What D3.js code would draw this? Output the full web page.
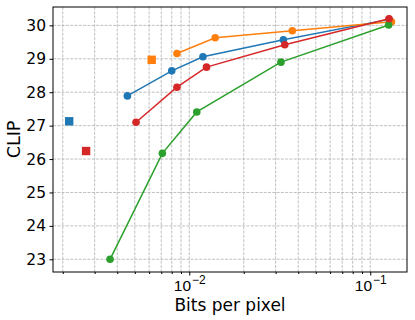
<!DOCTYPE html>
<html>
<head>
<meta charset="utf-8">
<script src="https://cdn.jsdelivr.net/npm/d3@7"></script>
<style>
  body { margin: 0; background: #fff; }
  svg { display: block; font-family: "DejaVu Sans", sans-serif; }
</style>
</head>
<body>
<script>
const width = 415;
const height = 320;
const margin = { top: 7, right: 8, bottom: 48, left: 53 };

// series: bits per pixel / CLIP score
const blueBpp  = [0.00455, 0.0080, 0.0119, 0.0331, 0.127];
const blueClip = [27.89, 28.64, 29.06, 29.57, 30.18];
const orangeBpp  = [0.00855, 0.0139, 0.0371, 0.131];
const orangeClip = [29.16, 29.63, 29.84, 30.11];
const greenBpp  = [0.00365, 0.0071, 0.0110, 0.0321, 0.1264];
const greenClip = [23.00, 26.17, 27.41, 28.90, 30.01];
const redBpp  = [0.00508, 0.00855, 0.01245, 0.0337, 0.127];
const redClip = [27.10, 28.15, 28.75, 29.42, 30.20];

// single-point baselines (square markers)
const squareBpp  = [0.00217, 0.0062, 0.00269];
const squareClip = [27.13, 28.97, 26.24];
const squareColor = ["#1f77b4", "#ff7f0e", "#d62728"];

const yTicks = [23, 24, 25, 26, 27, 28, 29, 30];
const xMajor = [0.01, 0.1];

const series = [
  { color: "#1f77b4", x: blueBpp, y: blueClip },
  { color: "#ff7f0e", x: orangeBpp, y: orangeClip },
  { color: "#2ca02c", x: greenBpp, y: greenClip },
  { color: "#d62728", x: redBpp, y: redClip }
];

const svg = d3.select("body").append("svg")
  .attr("width", width)
  .attr("height", height);

const x = d3.scaleLog()
  .domain([0.001766, 0.1596])
  .range([margin.left, width - margin.right]);

const y = d3.scaleLinear()
  .domain([22.62, 30.55])
  .range([height - margin.bottom, margin.top]);

// minor ticks for the log axis
const xMinor = [];
[0.001, 0.01, 0.1].forEach(function(d) {
  for (let k = 2; k <= 9; k++) {
    const v = d * k;
    if (v >= x.domain()[0] && v <= x.domain()[1]) xMinor.push(v);
  }
});

// grid
const grid = svg.append("g")
  .attr("stroke", "#b0b0b0")
  .attr("stroke-width", 0.8)
  .attr("stroke-dasharray", "3,1.3");

grid.selectAll(".gx")
  .data(xMajor.concat(xMinor))
  .join("line")
  .attr("x1", d => x(d)).attr("x2", d => x(d))
  .attr("y1", margin.top).attr("y2", height - margin.bottom);

grid.selectAll(".gy")
  .data(yTicks)
  .join("line")
  .attr("x1", margin.left).attr("x2", width - margin.right)
  .attr("y1", d => y(d)).attr("y2", d => y(d));

// lines + points
const line = d3.line()
  .x(d => x(d[0]))
  .y(d => y(d[1]));

series.forEach(function(s) {
  const pts = s.x.map((v, i) => [v, s.y[i]]);
  svg.append("path")
    .datum(pts)
    .attr("d", line)
    .attr("fill", "none")
    .attr("stroke", s.color)
    .attr("stroke-width", 1.5);
  svg.append("g")
    .selectAll("circle")
    .data(pts)
    .join("circle")
    .attr("cx", d => x(d[0]))
    .attr("cy", d => y(d[1]))
    .attr("r", 3.8)
    .attr("fill", s.color);
});

svg.append("g")
  .selectAll("rect")
  .data(squareBpp.map((v, i) => [v, squareClip[i], squareColor[i]]))
  .join("rect")
  .attr("x", d => x(d[0]) - 4.2)
  .attr("y", d => y(d[1]) - 4.2)
  .attr("width", 8.4)
  .attr("height", 8.4)
  .attr("fill", d => d[2]);

// frame
svg.append("rect")
  .attr("x", margin.left)
  .attr("y", margin.top)
  .attr("width", width - margin.left - margin.right)
  .attr("height", height - margin.top - margin.bottom)
  .attr("fill", "none")
  .attr("stroke", "#000")
  .attr("stroke-width", 1);

// y axis
const yAxis = svg.append("g")
  .attr("transform", "translate(" + margin.left + ",0)")
  .call(d3.axisLeft(y).tickValues(yTicks).tickSize(3.5).tickPadding(3.5).tickFormat(d3.format("d")));
yAxis.select(".domain").remove();
yAxis.selectAll("text").attr("font-size", 15.5).attr("fill", "#000").attr("font-family", "DejaVu Sans");

// x axis (major + minor)
const xAxisMinor = svg.append("g")
  .attr("transform", "translate(0," + (height - margin.bottom) + ")")
  .call(d3.axisBottom(x).tickValues(xMinor).tickSize(2).tickFormat(""));
xAxisMinor.select(".domain").remove();

const xAxis = svg.append("g")
  .attr("transform", "translate(0," + (height - margin.bottom) + ")")
  .call(d3.axisBottom(x).tickValues(xMajor).tickSize(3.5).tickFormat(""));
xAxis.select(".domain").remove();

xAxis.selectAll(".tick")
  .append("text")
  .attr("y", 19)
  .attr("fill", "#000")
  .attr("font-size", 15.5)
  .attr("text-anchor", "middle")
  .each(function(d) {
    const t = d3.select(this);
    t.append("tspan").text("10");
    t.append("tspan")
      .attr("dy", -7)
      .attr("dx", 1)
      .attr("font-size", 12)
      .text("\u2212" + Math.round(-Math.log10(d)));
  });

// labels
svg.append("text")
  .attr("x", (margin.left + width - margin.right) / 2)
  .attr("y", 310.5)
  .attr("text-anchor", "middle")
  .attr("font-size", 17)
  .text("Bits per pixel");

svg.append("text")
  .attr("transform", "translate(20," + ((margin.top + height - margin.bottom) / 2) + ") rotate(-90)")
  .attr("text-anchor", "middle")
  .attr("font-size", 17.5)
  .text("CLIP");
</script>
</body>
</html>
